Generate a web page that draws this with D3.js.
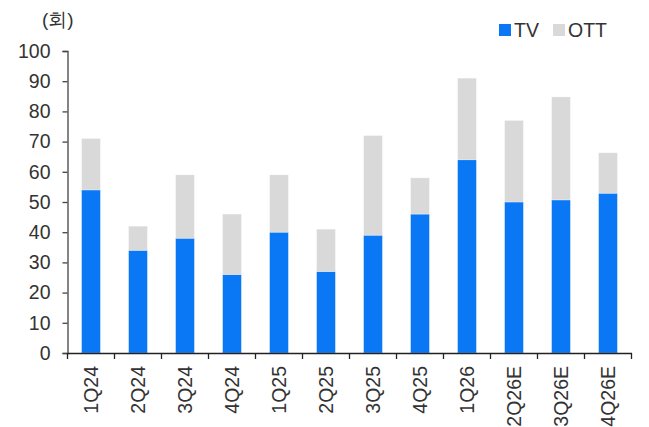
<!DOCTYPE html>
<html><head><meta charset="utf-8">
<script src="https://cdn.jsdelivr.net/npm/d3@7"></script>
<style>body{margin:0;background:#fff}svg{display:block}text{font-family:"Liberation Sans",Arial,sans-serif;fill:#333}</style>
</head><body><svg id="c" width="649" height="427"></svg>
<script>
const categories = ["1Q24","2Q24","3Q24","4Q24","1Q25","2Q25","3Q25","4Q25","1Q26","2Q26E","3Q26E","4Q26E"];
const tv  = [54,34,38,26,40,27,39,46,64,50,50.7,52.9];
const ott = [17,8,21,20,19,14,33,12,27,27,34.1,13.4];
const yTicks = [0,10,20,30,40,50,60,70,80,90,100];
const seriesNames = ["TV","OTT"];
const colors = ["#0A78F5","#D9D9D9"];

const svg = d3.select("#c");
const m = {l:67.5, r:17.5, t:51, b:74};
const W = 649, H = 427;
const x = d3.scaleBand().domain(categories).range([m.l, W-m.r]).paddingInner(0).paddingOuter(0);
const y = d3.scaleLinear().domain([0,100]).range([H-m.b, m.t]);

const rows = categories.map((c,i)=>({cat:c, TV:tv[i], OTT:ott[i]}));
const stack = d3.stack().keys(seriesNames)(rows);
const bw = x.bandwidth()*0.4;

svg.append("g").selectAll("g").data(stack).join("g")
  .attr("fill",(d,i)=>colors[i])
  .selectAll("rect").data(d=>d).join("rect")
  .attr("x",d=>x(d.data.cat)+x.bandwidth()/2-bw/2)
  .attr("width",bw)
  .attr("y",d=>y(d[1]))
  .attr("height",d=>y(d[0])-y(d[1]))
  .attr("stroke","rgba(255,255,255,0.35)").attr("stroke-width",0.8);

// y axis
const ya = svg.append("g").attr("transform",`translate(${m.l},0)`)
  .call(d3.axisLeft(y).tickValues(yTicks).tickSize(5).tickPadding(12));
ya.select(".domain").attr("stroke","#444").attr("stroke-width",1.3);
ya.selectAll(".tick line").attr("stroke","#444").attr("stroke-width",1.3);
ya.selectAll("text").attr("font-size",19.5).attr("fill","#333");

// x axis
const xa = svg.append("g").attr("transform",`translate(0,${y(0)})`)
  .call(d3.axisBottom(x).tickSize(0).tickPadding(0));
xa.select(".domain").attr("stroke","#222").attr("stroke-width",1.3);
xa.selectAll(".tick text").attr("font-size",19.5).attr("fill","#333")
  .attr("transform","rotate(-90)").attr("text-anchor","end")
  .attr("x",-13).attr("y",0).attr("dy","0.36em");
const bounds = categories.map(c=>x(c)).concat([x(categories[categories.length-1])+x.bandwidth()]);
xa.selectAll(".bnd").data(bounds).join("line").attr("class","bnd")
  .attr("x1",d=>d).attr("x2",d=>d).attr("y1",0).attr("y2",6)
  .attr("stroke","#222").attr("stroke-width",1.3);

// unit
svg.append("text").attr("x",42).attr("y",26).attr("font-size",19).attr("fill","#333").text("(회)");

// legend
const leg = svg.append("g");
const lx = [499,553];
seriesNames.forEach((s,i)=>{
  leg.append("rect").attr("x",lx[i]).attr("y",24).attr("width",12).attr("height",12).attr("fill",colors[i]);
  leg.append("text").attr("x",lx[i]+15).attr("y",37).attr("font-size",19.5).attr("fill","#222").text(s);
});
</script></body></html>
